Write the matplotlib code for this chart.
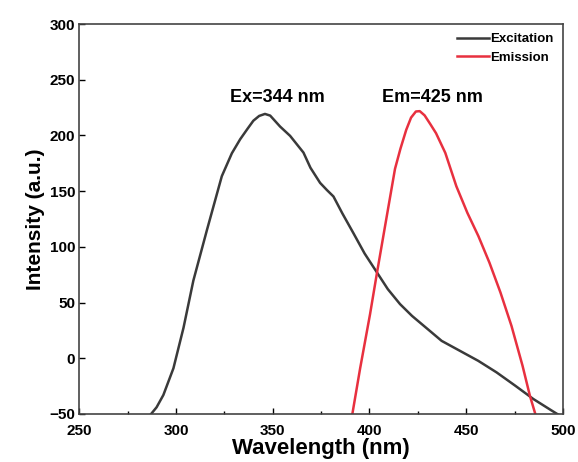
import matplotlib
matplotlib.use("Agg")
import matplotlib.pyplot as plt
from matplotlib.ticker import MultipleLocator

plt.rcParams['font.family'] = ['Liberation Sans', 'DejaVu Sans']
plt.rcParams['font.weight'] = 'bold'

# Excitation spectrum (wavelength nm, intensity a.u.)
ex_wl = [284, 286.7, 290, 293.5, 298.7, 303.9, 309, 316, 323.7, 328.9, 333.2,
         337, 340, 343, 346, 348.7, 353.8, 359, 365.9, 369.5, 374.5, 378, 381.4,
         386, 391.8, 397.5, 403.8, 409.5, 415.8, 422, 431.3, 437.3, 446.7, 456.2,
         465.7, 475.3, 484.7, 494.2, 497, 500]
ex_int = [-56, -51, -44, -33, -9, 27.3, 69.7, 115, 163.4, 184, 196.6,
          206, 213.2, 217.5, 219.3, 217.8, 208, 199.6, 184.6, 171, 157.4, 151, 145.2,
          130, 112, 94, 77.2, 62, 48.6, 38, 24.4, 15.6, 6.7, -2.3,
          -12.7, -24.6, -36.6, -47, -50, -53]

# Emission spectrum
em_wl = [390, 390.9, 395.2, 400.3, 403.8, 408, 413.2, 416, 419, 421.5, 424,
         426, 428.5, 431.5, 434.4, 439.2, 444.9, 450.6, 456.3, 462, 467.7,
         473.4, 479.1, 482.9, 485.7, 486.5]
em_int = [-58, -52.7, -8.9, 39.5, 75.8, 118, 170, 188, 205, 216, 221.5,
          221.8, 218, 210, 202, 184.3, 154.4, 130.5, 109.6, 85.8, 59,
          29, -6.7, -33.6, -50, -55]

fig = plt.figure(figsize=(5.78, 4.62), dpi=100)
ax = fig.add_axes([0.137, 0.104, 0.837, 0.844])

ax.plot(ex_wl, ex_int, color='#3a3a3a', lw=1.8, label='Excitation')
ax.plot(em_wl, em_int, color='#e8303f', lw=1.8, label='Emission')

ax.set_xlim(250, 500)
ax.set_ylim(-50, 300)
ax.xaxis.set_major_locator(MultipleLocator(50))
ax.xaxis.set_minor_locator(MultipleLocator(25))
ax.yaxis.set_major_locator(MultipleLocator(50))
ax.tick_params(which='both', direction='in', labelsize=11, width=1)
ax.tick_params(which='major', length=4)
ax.tick_params(which='minor', length=2.5)
ax.tick_params(axis='x', pad=7)
ax.tick_params(axis='y', pad=3)
for s in ax.spines.values():
    s.set_linewidth(1.2)
    s.set_color('#444444')

ax.set_xlabel('Wavelength (nm)', fontsize=16, fontweight='bold', labelpad=0)
ax.set_ylabel('Intensity (a.u.)', fontsize=15, fontweight='bold', labelpad=3)

ax.text(352.5, 234, 'Ex=344 nm', fontsize=13, fontweight='bold', ha='center', va='center')
ax.text(432.5, 234, 'Em=425 nm', fontsize=13, fontweight='bold', ha='center', va='center')

ax.legend(loc='upper right', frameon=False, fontsize=9.5, handlelength=2.4,
          handletextpad=0.1, borderaxespad=0.3, labelspacing=0.45)

fig.savefig('out.png', dpi=100)
